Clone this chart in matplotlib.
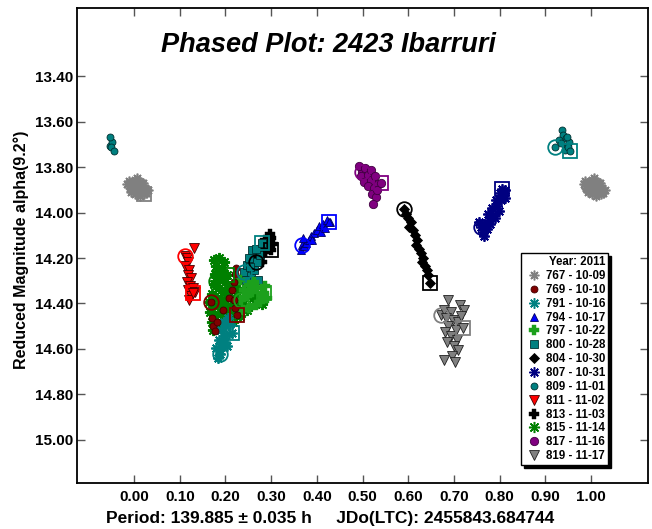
import matplotlib
matplotlib.use('Agg')
import matplotlib.pyplot as plt
from matplotlib.lines import Line2D

plt.rcParams['font.family'] = ['Liberation Sans', 'DejaVu Sans']
plt.rcParams['font.weight'] = 'bold'

# ---------------- data (phase, reduced magnitude) ----------------
ph_767 = [0.996, 0.985, 0.988, 0.990, 0.992, 0.994, 0.998, 0.999, 0.001, 0.003, 0.005, 0.007,
          0.009, 0.011, 0.013, 0.015, 0.017, 0.019, 0.021, 0.024, 0.027, 0.030, 0.002, 0.993,
          0.006, 0.012, 0.018, 0.022]
mag_767 = [13.885, 13.875, 13.862, 13.890, 13.870, 13.898, 13.866, 13.905, 13.885, 13.858, 13.895, 13.872,
           13.910, 13.880, 13.864, 13.900, 13.885, 13.872, 13.905, 13.890, 13.915, 13.900, 13.920, 13.910,
           13.850, 13.925, 13.868, 13.918]

ph_769 = [0.169, 0.171, 0.173, 0.178, 0.182, 0.195, 0.208, 0.215, 0.219, 0.221, 0.224, 0.219, 0.221, 0.226]
mag_769 = [14.393, 14.464, 14.499, 14.521, 14.481, 14.429, 14.376, 14.341, 14.306, 14.270, 14.244, 14.385,
           14.420, 14.451]

ph_791 = [0.187, 0.183, 0.189, 0.193, 0.185, 0.197, 0.191, 0.202, 0.196, 0.206, 0.199, 0.208, 0.204,
          0.180, 0.210, 0.215]
mag_791 = [14.622, 14.640, 14.604, 14.578, 14.560, 14.543, 14.516, 14.499, 14.481, 14.464, 14.569, 14.534,
           14.587, 14.596, 14.490, 14.530]

ph_794 = [0.367, 0.366, 0.372, 0.377, 0.383, 0.369, 0.388, 0.394, 0.400, 0.390, 0.405, 0.409, 0.413,
          0.418, 0.422, 0.429, 0.427]
mag_794 = [14.143, 14.165, 14.147, 14.134, 14.121, 14.112, 14.103, 14.090, 14.077, 14.121, 14.059, 14.086,
           14.051, 14.068, 14.033, 14.042, 14.042]

ph_797 = [0.235, 0.241, 0.252, 0.248, 0.263, 0.259, 0.270, 0.279, 0.275, 0.266, 0.252, 0.239, 0.287,
          0.292, 0.231, 0.285]
mag_797 = [14.385, 14.341, 14.319, 14.367, 14.305, 14.349, 14.332, 14.363, 14.393, 14.407, 14.420, 14.429,
           14.323, 14.376, 14.297, 14.354]

ph_800 = [0.241, 0.248, 0.252, 0.257, 0.263, 0.268, 0.259, 0.272, 0.245, 0.275, 0.266, 0.254, 0.279]
mag_800 = [14.262, 14.231, 14.200, 14.279, 14.253, 14.218, 14.165, 14.297, 14.297, 14.187, 14.160, 14.240,
           14.134]

ph_804 = [0.590, 0.595, 0.600, 0.606, 0.601, 0.610, 0.615, 0.619, 0.617, 0.623, 0.628, 0.632, 0.630,
          0.637, 0.641, 0.643, 0.647]
mag_804 = [13.985, 14.007, 14.024, 14.042, 14.064, 14.077, 14.099, 14.121, 14.143, 14.160, 14.178, 14.200,
           14.218, 14.235, 14.253, 14.275, 14.310]

ph_807 = [0.759, 0.763, 0.767, 0.772, 0.776, 0.774, 0.780, 0.785, 0.783, 0.790, 0.794, 0.798, 0.792,
          0.803, 0.807, 0.811, 0.800, 0.813, 0.767, 0.756, 0.805]
mag_807 = [14.064, 14.086, 14.051, 14.073, 14.033, 14.007, 14.051, 14.011, 13.980, 14.024, 13.971, 13.993,
           13.945, 13.945, 13.919, 13.936, 13.914, 13.901, 14.103, 14.042, 13.897]

ph_809 = [0.922, 0.936, 0.940, 0.945, 0.931, 0.934, 0.947, 0.952, 0.943, 0.948, 0.950, 0.955]
mag_809 = [13.712, 13.637, 13.659, 13.673, 13.681, 13.695, 13.708, 13.690, 13.725, 13.668, 13.712, 13.730]

ph_811 = [0.112, 0.132, 0.115, 0.119, 0.112, 0.121, 0.117, 0.125, 0.115, 0.123, 0.119, 0.130, 0.125,
          0.121, 0.134, 0.130]
mag_811 = [14.191, 14.156, 14.200, 14.218, 14.235, 14.253, 14.275, 14.288, 14.306, 14.323, 14.341, 14.332,
           14.367, 14.385, 14.349, 14.354]

ph_813 = [0.266, 0.272, 0.279, 0.275, 0.283, 0.287, 0.291, 0.296, 0.300, 0.298, 0.304, 0.287, 0.281, 0.300]
mag_813 = [14.218, 14.200, 14.187, 14.165, 14.156, 14.174, 14.143, 14.130, 14.112, 14.095, 14.138, 14.121,
           14.218, 14.165]

ph_815 = [0.180, 0.176, 0.186, 0.197, 0.180, 0.192, 0.178, 0.188, 0.199, 0.174, 0.185, 0.196, 0.170,
          0.181, 0.207, 0.165, 0.176, 0.187, 0.199, 0.212, 0.167, 0.178, 0.191, 0.204, 0.217, 0.226,
          0.171, 0.182, 0.195, 0.208, 0.222, 0.235, 0.173, 0.230, 0.219, 0.208, 0.226, 0.239, 0.248,
          0.261, 0.231, 0.216, 0.203, 0.244, 0.257, 0.270, 0.279, 0.204]
mag_815 = [14.300, 14.209, 14.200, 14.218, 14.235, 14.253, 14.270, 14.288, 14.306, 14.314, 14.332, 14.349,
           14.358, 14.376, 14.367, 14.393, 14.411, 14.402, 14.385, 14.376, 14.437, 14.455, 14.437, 14.420,
           14.402, 14.367, 14.481, 14.499, 14.473, 14.455, 14.429, 14.402, 14.516, 14.341, 14.323, 14.332,
           14.407, 14.385, 14.429, 14.376, 14.455, 14.481, 14.451, 14.349, 14.332, 14.367, 14.402, 14.275]

ph_817 = [0.499, 0.492, 0.505, 0.496, 0.511, 0.518, 0.503, 0.519, 0.527, 0.512, 0.525, 0.534, 0.521,
          0.529, 0.523, 0.531, 0.540]
mag_817 = [13.822, 13.796, 13.804, 13.840, 13.835, 13.813, 13.866, 13.857, 13.840, 13.884, 13.892, 13.875,
           13.919, 13.932, 13.963, 13.901, 13.870]

ph_819 = [0.671, 0.687, 0.713, 0.722, 0.678, 0.693, 0.683, 0.698, 0.710, 0.688, 0.704, 0.680, 0.693,
          0.706, 0.684, 0.700, 0.710, 0.695, 0.702, 0.678, 0.715, 0.721]
mag_819 = [14.451, 14.385, 14.407, 14.429, 14.429, 14.437, 14.464, 14.473, 14.481, 14.499, 14.516, 14.525,
           14.543, 14.560, 14.569, 14.587, 14.604, 14.631, 14.657, 14.648, 14.455, 14.508]

legend_labels = ['767 - 10-09', '769 - 10-10', '791 - 10-16', '794 - 10-17', '797 - 10-22',
                 '800 - 10-28', '804 - 10-30', '807 - 10-31', '809 - 11-01', '811 - 11-02',
                 '813 - 11-03', '815 - 11-14', '817 - 11-16', '819 - 11-17']
x_ticks = [0.0, 0.1, 0.2, 0.3, 0.4, 0.5, 0.6, 0.7, 0.8, 0.9, 1.0]
y_ticks = [13.4, 13.6, 13.8, 14.0, 14.2, 14.4, 14.6, 14.8, 15.0]

# ---------------- styles ----------------
AST = (8, 2, 0)
styles = [
    dict(ph=ph_767, mag=mag_767, color='#808080', marker=AST, ms=7, mec='#808080', mew=1.2),
    dict(ph=ph_769, mag=mag_769, color='#800000', marker='o', ms=5, mec='#400000', mew=0.6),
    dict(ph=ph_791, mag=mag_791, color='#008080', marker=AST, ms=7.5, mec='#008080', mew=1.3),
    dict(ph=ph_794, mag=mag_794, color='#0000FF', marker='^', ms=6, mec='#000060', mew=0.6),
    dict(ph=ph_797, mag=mag_797, color='#1CA01C', marker='P', ms=7, mec='#1CA01C', mew=0.3),
    dict(ph=ph_800, mag=mag_800, color='#008080', marker='s', ms=6, mec='#003030', mew=0.6),
    dict(ph=ph_804, mag=mag_804, color='#000000', marker='D', ms=5, mec='#000000', mew=0.6),
    dict(ph=ph_807, mag=mag_807, color='#000080', marker=AST, ms=7.5, mec='#000080', mew=1.3),
    dict(ph=ph_809, mag=mag_809, color='#008080', marker='o', ms=5, mec='#003030', mew=0.6),
    dict(ph=ph_811, mag=mag_811, color='#FF0000', marker='v', ms=6.5, mec='#400000', mew=0.6),
    dict(ph=ph_813, mag=mag_813, color='#000000', marker='P', ms=6.5, mec='#000000', mew=0.3),
    dict(ph=ph_815, mag=mag_815, color='#008000', marker=AST, ms=8, mec='#008000', mew=1.4),
    dict(ph=ph_817, mag=mag_817, color='#800080', marker='o', ms=6, mec='#400040', mew=0.6),
    dict(ph=ph_819, mag=mag_819, color='#808080', marker='v', ms=7, mec='#202020', mew=0.6),
]


def wrap(ph, mag):
    xs, ys = [], []
    for p, m in zip(ph, mag):
        xs.append(p)
        ys.append(m)
        if p > 0.946:
            xs.append(p - 1.0)
            ys.append(m)
        if p < 0.054:
            xs.append(p + 1.0)
            ys.append(m)
    return xs, ys


W, H = 652, 529
fig = plt.figure(figsize=(W / 100, H / 100), dpi=100)
ax = fig.add_axes([77 / W, 46 / H, 571 / W, 475 / H])

# draw in reverse so earlier sessions sit on top
for i in range(len(styles) - 1, -1, -1):
    s = styles[i]
    xs, ys = wrap(s['ph'], s['mag'])
    ax.plot(xs, ys, linestyle='none', marker=s['marker'], ms=s['ms'], mfc=s['color'],
            mec=s['mec'], mew=s['mew'], zorder=3 + (len(styles) - i) * 0.01)
    ax.plot([s['ph'][0]], [s['mag'][0]], linestyle='none', marker='o', ms=10.5, mfc='none',
            mec=s['color'], mew=1.3, zorder=4)
    ax.plot([s['ph'][-1]], [s['mag'][-1]], linestyle='none', marker='s', ms=9.5, mfc='none',
            mec=s['color'], mew=1.3, zorder=4)

ax.set_xlim(-0.125, 1.125)
ax.set_ylim(15.19, 13.10)
ax.set_xticks(x_ticks)
ax.set_xticklabels(['%.2f' % v for v in x_ticks])
ax.set_yticks(y_ticks)
ax.set_yticklabels(['%.2f' % v for v in y_ticks])
ax.tick_params(axis='both', which='both', direction='in', length=6, width=1.0,
               top=True, right=True, labelsize=11, color='#555555')
ax.tick_params(axis='x', pad=5)
ax.tick_params(axis='y', pad=3)
for lbl in ax.get_xticklabels() + ax.get_yticklabels():
    lbl.set_fontweight('bold')
for sp in ax.spines.values():
    sp.set_linewidth(1.3)

fig.text(328 / W, 1 - 45 / H, 'Phased Plot: 2423 Ibarruri', ha='center', va='center',
         fontsize=19.5, fontweight='bold', fontstyle='italic')
fig.text(21 / W, 1 - 250 / H, 'Reduced Magnitude alpha(9.2°)', rotation=90, ha='center',
         va='center', fontsize=11.5, fontweight='bold')
fig.text(330 / W, 1 - 519 / H, 'Period: 139.885 ± 0.035 h     JDo(LTC): 2455843.684744',
         ha='center', va='center', fontsize=12.5, fontweight='bold')

handles = []
for s in styles:
    handles.append(Line2D([], [], linestyle='none', marker=s['marker'], ms=s['ms'],
                          mfc=s['color'], mec=s['mec'], mew=min(s['mew'], 1.1)))
leg = ax.legend(handles, legend_labels, title='Year: 2011', loc='lower right',
                bbox_to_anchor=(0.930, 0.038), borderaxespad=0, frameon=True,
                fancybox=False, shadow={'color': 'black', 'alpha': 1.0},
                prop={'weight': 'bold', 'size': 8.3},
                title_fontproperties={'weight': 'bold', 'size': 8.3},
                labelspacing=0.16, handletextpad=0.25, handlelength=1.6,
                borderpad=0.25, alignment='right')
leg.get_frame().set_edgecolor('black')
leg.get_frame().set_linewidth(1.0)
leg.set_zorder(10)

fig.savefig('out.png', dpi=100)
